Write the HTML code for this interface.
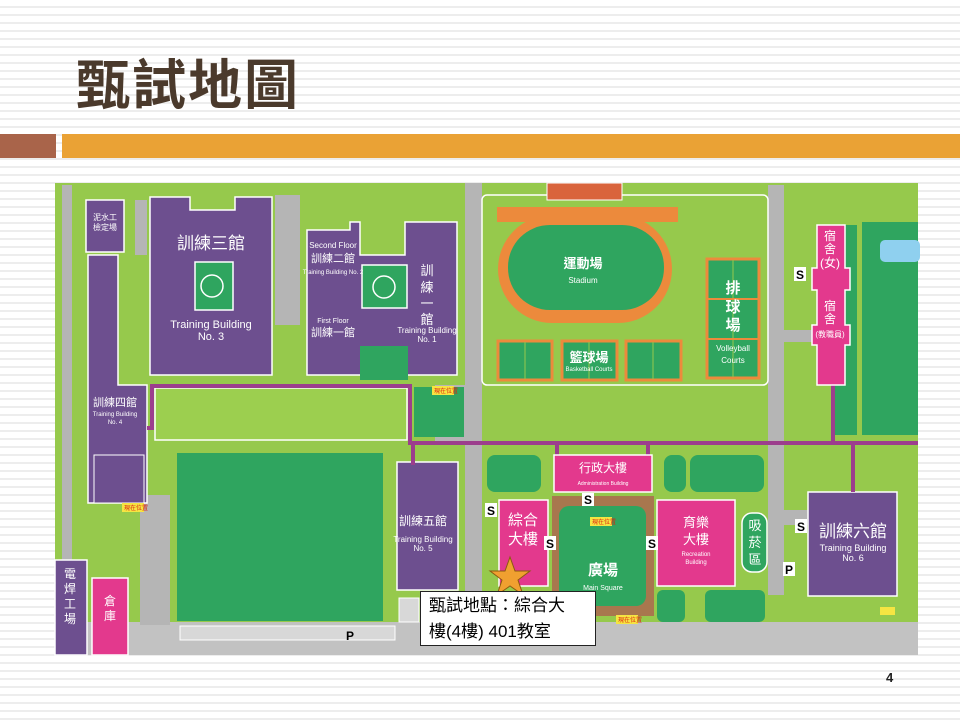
<!DOCTYPE html>
<html><head><meta charset="utf-8"><style>
html,body{margin:0;padding:0}
body{width:960px;height:720px;position:relative;overflow:hidden;background:#fff repeating-linear-gradient(to bottom,#fff 0,#fff 6px,#ededed 6px,#ededed 8px);font-family:"Liberation Sans","Noto Sans CJK TC",sans-serif}
.title{position:absolute;left:76px;top:41px;font-size:54px;font-weight:bold;color:#4b3a2c;font-family:"Noto Sans CJK TC","WenQuanYi Zen Hei",sans-serif;letter-spacing:2px}
.b1{position:absolute;left:0;top:134px;width:56px;height:24px;background:#a9644a}
.b2{position:absolute;left:62px;top:134px;width:898px;height:24px;background:#eaa235}
.pg{position:absolute;left:886px;top:670px;font-size:13px;font-weight:bold;color:#222}
svg{position:absolute;left:0;top:0}
svg text{font-family:"Liberation Sans","Noto Sans CJK TC",sans-serif}
.box{position:absolute;left:420px;top:591px;width:176px;height:55px;background:#fff;border:1px solid #222;font-size:17px;line-height:26px;padding:1px 0 0 8px;box-sizing:border-box;color:#000;font-family:"Liberation Sans","Noto Sans CJK TC",sans-serif}
</style></head><body>
<div class="title">甄試地圖</div>
<div class="b1"></div><div class="b2"></div>
<svg width="960" height="720" viewBox="0 0 960 720">
<rect x="55" y="183" width="863" height="472" fill="#96c94c"/>
<g fill="#b5b5b5">
<rect x="62" y="185" width="10" height="450"/>
<rect x="465" y="183" width="17" height="440"/>
<rect x="768" y="185" width="16" height="410"/>
<rect x="55" y="622" width="863" height="33" fill="#c2c2c2"/>
<rect x="135" y="200" width="12" height="55"/>
<rect x="275" y="195" width="25" height="130"/>
<rect x="140" y="495" width="30" height="130"/>
<rect x="435" y="385" width="30" height="60"/>
<rect x="782" y="330" width="30" height="12"/>
<rect x="784" y="510" width="24" height="15"/>
</g>
<g fill="#6d4f8f" stroke="#fff" stroke-width="1.5">
<rect x="86" y="200" width="38" height="52"/>
<path d="M88 255 H118 V385 H147 V503 H88 Z"/>
<path d="M150 197 H190 V210 H235 V197 H272 V375 H150 Z"/>
<path d="M307 230 H350 V222 H360 V255 H405 V222 H457 V375 H307 Z"/>
<rect x="397" y="462" width="61" height="128"/>
<rect x="808" y="492" width="89" height="104"/>
<rect x="55" y="560" width="32" height="95"/>
</g>
<rect x="94" y="455" width="50" height="48" fill="#6d4f8f" stroke="#fff"/>
<g fill="#2fa55f">
<rect x="195" y="262" width="38" height="48" stroke="#fff" stroke-width="1.5"/>
<rect x="362" y="265" width="45" height="43" stroke="#fff" stroke-width="1.5"/>
<rect x="360" y="346" width="48" height="34"/>
<rect x="414" y="387" width="50" height="50"/>
<rect x="177" y="453" width="206" height="168"/>
<rect x="862" y="222" width="56" height="213"/>
<rect x="835" y="225" width="22" height="210"/>
<rect x="487" y="455" width="54" height="37" rx="8"/>
<rect x="664" y="455" width="22" height="37" rx="8"/>
<rect x="690" y="455" width="74" height="37" rx="8"/>
<rect x="657" y="590" width="28" height="32" rx="6"/>
<rect x="705" y="590" width="60" height="32" rx="6"/>
</g>
<circle cx="212" cy="286" r="11" fill="none" stroke="#fff" stroke-width="1.5"/>
<circle cx="384" cy="287" r="11" fill="none" stroke="#fff" stroke-width="1.5"/>
<rect x="155" y="388" width="252" height="52" fill="#9ccf4f" stroke="#fff" stroke-width="1.5"/>
<rect x="880" y="240" width="40" height="22" rx="5" fill="#8fd0ef"/>
<rect x="482" y="195" width="286" height="190" rx="5" fill="#96c94c" stroke="#fff" stroke-width="1.5"/>
<rect x="547" y="183" width="75" height="17" fill="#d9643c" stroke="#fff"/>
<rect x="497" y="207" width="181" height="15" fill="#ec8a3c"/>
<rect x="498" y="215" width="174" height="108" rx="54" fill="#ec8a3c"/>
<rect x="508" y="225" width="156" height="85" rx="42" fill="#2fa55f"/>
<g fill="#2fa55f" stroke="#ec8a3c" stroke-width="3">
<rect x="498" y="341" width="54" height="39"/><rect x="562" y="341" width="55" height="39"/><rect x="626" y="341" width="55" height="39"/>
<rect x="707" y="259" width="52" height="119"/>
</g>
<g stroke="#96c94c" stroke-width="1"><line x1="525" y1="342" x2="525" y2="379"/><line x1="589" y1="342" x2="589" y2="379"/><line x1="653" y1="342" x2="653" y2="379"/><line x1="733" y1="260" x2="733" y2="377"/></g>
<g stroke="#ec8a3c" stroke-width="2"><line x1="707" y1="299" x2="759" y2="299"/><line x1="707" y1="339" x2="759" y2="339"/></g>
<g stroke="#9c3e8d" stroke-width="4" fill="none">
<path d="M147 428 H152 V386 H410 V443 H918"/>
<line x1="413" y1="443" x2="413" y2="465"/>
<line x1="557" y1="443" x2="557" y2="458"/>
<line x1="648" y1="443" x2="648" y2="458"/>
<line x1="853" y1="443" x2="853" y2="492"/>
<line x1="833" y1="385" x2="833" y2="443"/>
</g>
<g fill="#e3398d" stroke="#fff" stroke-width="1.5">
<path d="M817 225 H845 V268 H850 V290 H845 V325 H850 V345 H845 V385 H817 V345 H812 V325 H817 V290 H812 V268 H817 Z"/>
<rect x="554" y="455" width="98" height="37"/>
<rect x="499" y="500" width="49" height="86"/>
<rect x="657" y="500" width="78" height="86"/>
<rect x="92" y="578" width="36" height="77"/>
</g>
<rect x="552" y="496" width="102" height="120" fill="#a8774e"/>
<rect x="559" y="506" width="87" height="100" rx="10" fill="#2fa55f"/>
<rect x="742" y="513" width="25" height="59" rx="10" fill="#2fa55f" stroke="#fff" stroke-width="1.5"/>
<rect x="180" y="626" width="215" height="14" fill="#d8d8d8" stroke="#fff"/>
<rect x="399" y="598" width="20" height="24" fill="#d8d8d8" stroke="#fff"/>
<rect x="880" y="607" width="15" height="8" fill="#f5e542"/>
<g fill="#fff" text-anchor="middle">
<text x="105" y="220" font-size="8">泥水工</text><text x="105" y="230" font-size="8">檢定場</text>
<text x="211" y="249" font-size="17">訓練三館</text>
<text x="211" y="328" font-size="11">Training Building</text><text x="211" y="340" font-size="11">No. 3</text>
<text x="333" y="248" font-size="8">Second Floor</text><text x="333" y="262" font-size="11">訓練二館</text>
<text x="333" y="274" font-size="6">Training Building No. 2</text>
<text x="333" y="323" font-size="7">First Floor</text><text x="333" y="336" font-size="11">訓練一館</text>
<text x="427" y="275" font-size="13">訓</text><text x="427" y="292" font-size="13">練</text><text x="427" y="308" font-size="13">一</text><text x="427" y="324" font-size="13">館</text>
<text x="427" y="333" font-size="8">Training Building</text><text x="427" y="342" font-size="8">No. 1</text>
<text x="115" y="406" font-size="11">訓練四館</text><text x="115" y="416" font-size="6">Training Building</text><text x="115" y="424" font-size="6">No. 4</text>
<text x="423" y="525" font-size="12">訓練五館</text><text x="423" y="542" font-size="8">Training Building</text><text x="423" y="551" font-size="8">No. 5</text>
<text x="853" y="537" font-size="17">訓練六館</text><text x="853" y="551" font-size="9">Training Building</text><text x="853" y="561" font-size="9">No. 6</text>
<text x="583" y="268" font-size="13" font-weight="bold">運動場</text><text x="583" y="283" font-size="8">Stadium</text>
<text x="589" y="362" font-size="13" font-weight="bold">籃球場</text><text x="589" y="371" font-size="6">Basketball Courts</text>
<text x="733" y="293" font-size="15" font-weight="bold">排</text><text x="733" y="312" font-size="15" font-weight="bold">球</text><text x="733" y="330" font-size="15" font-weight="bold">場</text>
<text x="733" y="351" font-size="8">Volleyball</text><text x="733" y="363" font-size="8">Courts</text>
<text x="830" y="240" font-size="12">宿</text><text x="830" y="253" font-size="12">舍</text><text x="830" y="267" font-size="12">(女)</text>
<text x="830" y="310" font-size="12">宿</text><text x="830" y="323" font-size="12">舍</text><text x="830" y="337" font-size="8">(教職員)</text>
<text x="603" y="472" font-size="12">行政大樓</text><text x="603" y="485" font-size="5">Administration Building</text>
<text x="523" y="525" font-size="15">綜合</text><text x="523" y="544" font-size="15">大樓</text>
<text x="603" y="575" font-size="15" font-weight="bold">廣場</text><text x="603" y="590" font-size="7">Main Square</text>
<text x="696" y="527" font-size="13">育樂</text><text x="696" y="544" font-size="13">大樓</text><text x="696" y="556" font-size="6">Recreation</text><text x="696" y="564" font-size="6">Building</text>
<text x="755" y="530" font-size="13">吸</text><text x="755" y="547" font-size="13">菸</text><text x="755" y="564" font-size="13">區</text>
<text x="110" y="605" font-size="12">倉</text><text x="110" y="620" font-size="12">庫</text>
<text x="70" y="578" font-size="12">電</text><text x="70" y="593" font-size="12">焊</text><text x="70" y="608" font-size="12">工</text><text x="70" y="623" font-size="12">場</text>
</g>
<g font-size="12" fill="#000" font-weight="bold">
<rect x="794" y="267" width="12" height="14" fill="#fff"/><text x="796" y="279">S</text>
<rect x="485" y="503" width="12" height="14" fill="#fff"/><text x="487" y="515">S</text>
<rect x="582" y="493" width="12" height="13" fill="#fff"/><text x="584" y="504">S</text>
<rect x="544" y="536" width="12" height="14" fill="#fff"/><text x="546" y="548">S</text>
<rect x="646" y="536" width="12" height="14" fill="#fff"/><text x="648" y="548">S</text>
<rect x="795" y="519" width="12" height="14" fill="#fff"/><text x="797" y="531">S</text>
<rect x="783" y="562" width="12" height="14" fill="#fff"/><text x="785" y="574">P</text>
<text x="346" y="640">P</text>
</g>
<g font-size="6" fill="#d21">
<rect x="432" y="386" width="22" height="9" fill="#f5e542"/><text x="434" y="393">現在位置</text>
<rect x="122" y="503" width="22" height="9" fill="#f5e542"/><text x="124" y="510">現在位置</text>
<rect x="590" y="517" width="22" height="9" fill="#f5e542"/><text x="592" y="524">現在位置</text>
<rect x="616" y="615" width="22" height="9" fill="#f5e542"/><text x="618" y="622">現在位置</text>
</g>
<polygon points="510,557 515,571 530,571 518,580 523,595 510,586 497,595 502,580 490,571 505,571" fill="#f0a030" stroke="#8a5a10" stroke-width="1"/>
</svg>
<div class="box">甄試地點：綜合大<br>樓(4樓) 401教室</div>
<div class="pg">4</div>
</body></html>
